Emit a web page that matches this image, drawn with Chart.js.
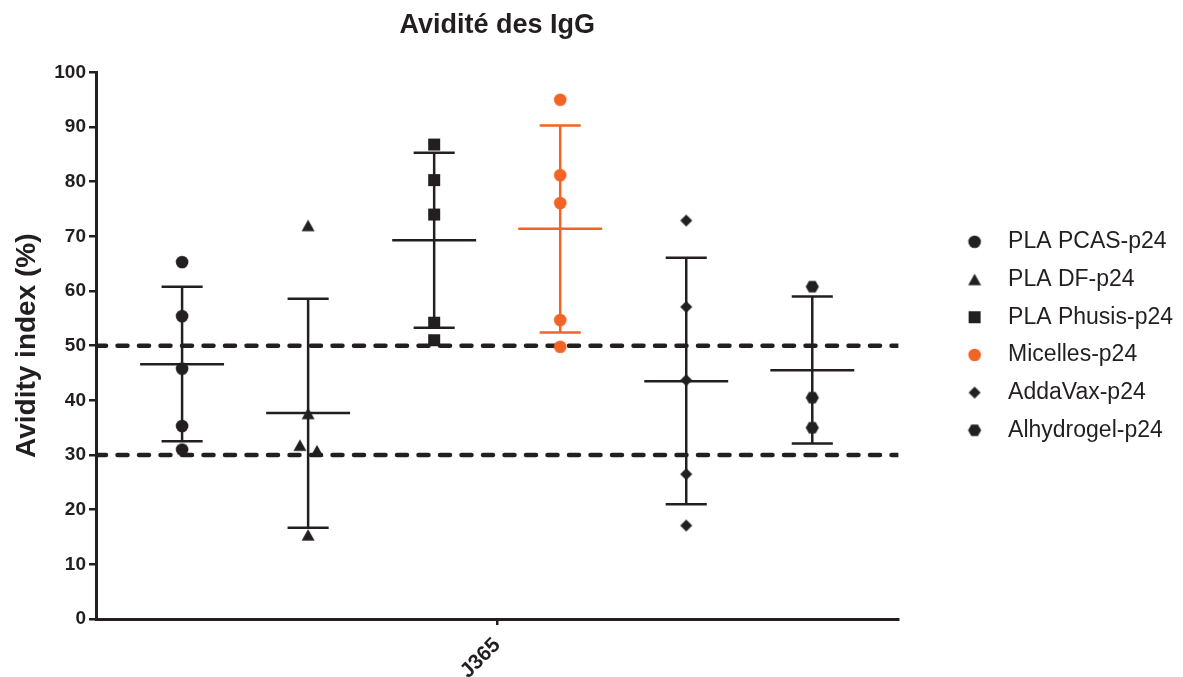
<!DOCTYPE html>
<html>
<head>
<meta charset="utf-8">
<script src="https://cdn.jsdelivr.net/npm/chart.js@4"></script>
<style>
  body { margin: 0; background: #fff; }
  #wrap { width: 1183px; height: 677px; }
</style>
</head>
<body>
<div id="wrap"><canvas id="chart"></canvas></div>
<script>
const groups = ["PLA PCAS-p24", "PLA DF-p24", "PLA Phusis-p24", "Micelles-p24", "AddaVax-p24", "Alhydrogel-p24"];
const timepoint = "J365";

// individual values
const pcasValues = [65.3, 55.4, 45.8, 35.3, 31.0];
const dfValues = [72.0, 37.6, 31.8, 30.8, 15.4];
const phusisValues = [86.8, 80.3, 74.0, 54.2, 51.0];
const micellesValues = [95.0, 81.2, 76.1, 54.7, 49.8];
const addavaxValues = [72.9, 57.1, 43.7, 26.5, 17.1];
const alhydrogelValues = [60.8, 40.5, 35.0];

// small horizontal jitter of the points (in group units)
const dfJitter = [0, 0, -0.065, 0.07, 0];

// mean and mean +/- SD as drawn
const means = [46.6, 37.7, 69.3, 71.4, 43.5, 45.5];
const sdHigh = [60.8, 58.6, 85.3, 90.3, 66.1, 59.0];
const sdLow = [32.5, 16.7, 53.3, 52.4, 21.0, 32.1];

// dashed threshold lines
const thresholds = [50, 30];

const black = "#231f20";
const orange = "#f26425";
const font = "'Liberation Sans', Arial, sans-serif";
const xMin = 0.317, xMax = 6.683;
const meanHalf = 0.333, capHalf = 0.163;

function marker(shape, color) {
  const c = document.createElement("canvas");
  c.width = 16;
  c.height = 16;
  const g = c.getContext("2d");
  g.fillStyle = color;
  g.beginPath();
  if (shape === "circle") {
    g.arc(8, 8, 6.3, 0, Math.PI * 2);
  } else if (shape === "triangle") {
    g.moveTo(8, 2.2);
    g.lineTo(14.5, 13.8);
    g.lineTo(1.5, 13.8);
  } else if (shape === "square") {
    g.rect(2, 2, 12, 12);
  } else if (shape === "diamond") {
    g.moveTo(8, 2);
    g.lineTo(14, 8);
    g.lineTo(8, 14);
    g.lineTo(2, 8);
  } else {
    for (let i = 0; i < 6; i++) {
      const a = (i * Math.PI) / 3;
      g.lineTo(8 + 6.6 * Math.cos(a), 8 + 6.6 * Math.sin(a));
    }
  }
  g.closePath();
  g.fill();
  return c;
}

const allValues = [pcasValues, dfValues, phusisValues, micellesValues, addavaxValues, alhydrogelValues];
const shapes = ["circle", "triangle", "square", "circle", "diamond", "hexagon"];
const colors = [black, black, black, orange, black, black];

const pointSets = groups.map((name, g) => ({
  label: name,
  data: allValues[g].map((v, i) => ({
    x: g + 1 + (g === 1 ? dfJitter[i] : 0),
    y: v,
  })),
  pointStyle: marker(shapes[g], colors[g]),
  backgroundColor: colors[g],
  borderColor: colors[g],
  showLine: false,
}));

const barSets = groups.map((name, g) => {
  const c = g + 1;
  return {
    label: name + " mean/SD",
    data: [
      { x: c - meanHalf, y: means[g] }, { x: c + meanHalf, y: means[g] }, { x: c, y: null },
      { x: c, y: sdLow[g] }, { x: c, y: sdHigh[g] }, { x: c, y: null },
      { x: c - capHalf, y: sdHigh[g] }, { x: c + capHalf, y: sdHigh[g] }, { x: c, y: null },
      { x: c - capHalf, y: sdLow[g] }, { x: c + capHalf, y: sdLow[g] },
    ],
    showLine: true,
    borderColor: colors[g],
    borderWidth: 2.5,
    pointRadius: 0,
    spanGaps: false,
  };
});

const dashSets = thresholds.map((t) => ({
  label: "seuil " + t,
  data: [{ x: xMin, y: t }, { x: xMax, y: t }],
  showLine: true,
  borderColor: black,
  borderWidth: 4.5,
  borderDash: [10, 11.5],
  borderCapStyle: "round",
  pointRadius: 0,
}));

new Chart(document.getElementById("chart"), {
  type: "scatter",
  data: { datasets: [...pointSets, ...barSets, ...dashSets] },
  options: {
    animation: false,
    responsive: true,
    maintainAspectRatio: false,
    layout: { padding: { right: 0 } },
    plugins: {
      title: {
        display: true,
        fullSize: false,
        text: "Avidité des IgG",
        color: black,
        font: { family: font, size: 27, weight: "bold" },
        padding: { top: 9, bottom: 31 },
      },
      legend: {
        position: "right",
        fullSize: false,
        align: "start",
        maxWidth: 300,
        title: { display: true, text: "", font: { size: 12 }, padding: 64.4 },
        labels: {
          usePointStyle: true,
          pointStyleWidth: 44,
          boxHeight: 13,
          padding: 14.7,
          color: black,
          font: { family: font, size: 23 },
          filter: (item) => item.datasetIndex < groups.length,
        },
      },
      tooltip: { enabled: false },
    },
    scales: {
      x: {
        type: "linear",
        min: xMin,
        max: xMax,
        afterBuildTicks: (s) => { s.ticks = [{ value: 3.5 }]; },
        afterFit: (s) => { s.height = 58; },
        ticks: {
          callback: () => timepoint,
          color: black,
          font: { family: font, size: 21, weight: "bold" },
          minRotation: 45,
          maxRotation: 45,
          padding: 8,
        },
        grid: { drawOnChartArea: false, tickLength: 6, lineWidth: 2.5, color: black },
        border: { width: 3, color: black },
      },
      y: {
        min: 0,
        max: 100,
        afterFit: (s) => { s.width = 96; },
        ticks: {
          stepSize: 10,
          color: black,
          font: { family: font, size: 19, weight: "bold" },
          padding: 3,
        },
        grid: { drawOnChartArea: false, tickLength: 7, lineWidth: 2.5, color: black },
        border: { width: 3, color: black },
        title: {
          display: true,
          text: "Avidity index (%)",
          color: black,
          font: { family: font, size: 28, weight: "bold" },
          padding: { top: 10, bottom: 4 },
        },
      },
      gap: {
        type: "linear",
        position: "right",
        afterFit: (s) => { s.width = 39.5; },
        grid: { display: false },
        border: { display: false },
        ticks: { display: false },
      },
    },
  },
});
</script>
</body>
</html>
